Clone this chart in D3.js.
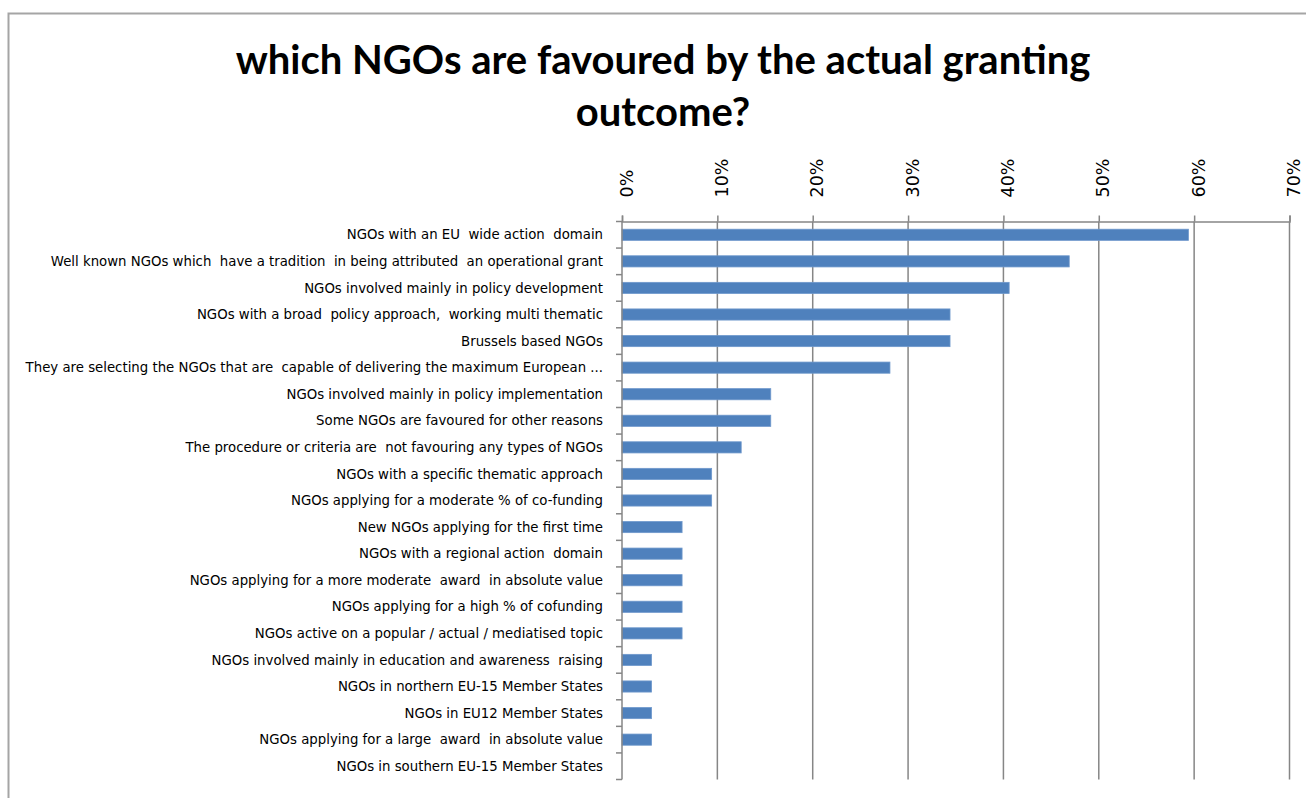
<!DOCTYPE html>
<html>
<head>
<meta charset="utf-8">
<script src="https://cdn.jsdelivr.net/npm/d3@7/dist/d3.min.js"></script>
<style>
  html, body { margin: 0; padding: 0; background: #ffffff; }
  svg { display: block; }
</style>
</head>
<body>
<svg id="chart" width="1306" height="798"></svg>
<script>
// Survey answers: share of respondents naming each type of NGO
const categories = [
  "NGOs with an EU  wide action  domain",
  "Well known NGOs which  have a tradition  in being attributed  an operational grant",
  "NGOs involved mainly in policy development",
  "NGOs with a broad  policy approach,  working multi thematic",
  "Brussels based NGOs",
  "They are selecting the NGOs that are  capable of delivering the maximum European ...",
  "NGOs involved mainly in policy implementation",
  "Some NGOs are favoured for other reasons",
  "The procedure or criteria are  not favouring any types of NGOs",
  "NGOs with a specific thematic approach",
  "NGOs applying for a moderate % of co-funding",
  "New NGOs applying for the first time",
  "NGOs with a regional action  domain",
  "NGOs applying for a more moderate  award  in absolute value",
  "NGOs applying for a high % of cofunding",
  "NGOs active on a popular / actual / mediatised topic",
  "NGOs involved mainly in education and awareness  raising",
  "NGOs in northern EU-15 Member States",
  "NGOs in EU12 Member States",
  "NGOs applying for a large  award  in absolute value",
  "NGOs in southern EU-15 Member States"
];
const shares = [
  0.594, 0.469, 0.406, 0.344, 0.344, 0.281, 0.156, 0.156, 0.125, 0.094, 0.094,
  0.063, 0.063, 0.063, 0.063, 0.063, 0.031, 0.031, 0.031, 0.031, 0.0
];
const tickValues = [0, 0.1, 0.2, 0.3, 0.4, 0.5, 0.6, 0.7];
const titleLines = ["which NGOs are favoured by the actual granting", "outcome?"];

const svg = d3.select("#chart");
const gridColor = "#868686";
const barColor = "#4f81bd";

// outer chart frame
svg.append("rect")
  .attr("x", 8.5).attr("y", 13.5)
  .attr("width", 1330).attr("height", 820)
  .attr("fill", "none")
  .attr("stroke", "#a5a5a5")
  .attr("stroke-width", 2);

// title
svg.append("text")
  .attr("x", 663)
  .attr("font-family", "Lato, 'Open Sans', sans-serif")
  .attr("font-weight", "bold")
  .attr("font-size", 40)
  .attr("fill", "#000")
  .attr("text-anchor", "middle")
  .selectAll("tspan")
  .data(titleLines)
  .join("tspan")
  .attr("x", 663)
  .attr("y", (d, i) => 74 + i * 52)
  .text(d => d);

const plotLeft = 622, plotRight = 1289.5, plotTop = 221.5, plotBottom = 779.5;

const x = d3.scaleLinear().domain([0, 0.7]).range([plotLeft, plotRight]);
const y = d3.scaleBand().domain(categories).range([plotTop, plotBottom]).paddingInner(0.58).paddingOuter(0.29);

// vertical gridlines
svg.append("g")
  .selectAll("line")
  .data(tickValues.slice(1))
  .join("line")
  .attr("x1", d => x(d)).attr("x2", d => x(d))
  .attr("y1", plotTop).attr("y2", plotBottom)
  .attr("stroke", gridColor)
  .attr("stroke-width", 1.5);

// value axis on top
const xAxis = d3.axisTop(x)
  .tickValues(tickValues)
  .tickSize(6)
  .tickFormat(d3.format(".0%"));
const gx = svg.append("g")
  .attr("transform", `translate(0,${plotTop})`)
  .call(xAxis);
gx.select(".domain").attr("stroke", gridColor).attr("stroke-width", 1.5);
gx.selectAll(".tick line").attr("stroke", gridColor).attr("stroke-width", 1.5);
gx.selectAll(".tick text")
  .attr("font-family", "'DejaVu Sans', sans-serif")
  .attr("font-size", 17.5)
  .attr("fill", "#000")
  .attr("text-anchor", "start")
  .attr("transform", "translate(4,-24) rotate(-90)")
  .attr("x", 0).attr("y", 0)
  .attr("dy", "0.35em");

// bars
svg.append("g")
  .selectAll("rect")
  .data(categories.map((c, i) => ({ c, v: shares[i] })))
  .join("rect")
  .attr("x", x(0))
  .attr("y", d => y(d.c))
  .attr("width", d => x(d.v) - x(0))
  .attr("height", y.bandwidth())
  .attr("fill", barColor)
  .attr("stroke", d => d.v > 0 ? "#6f98cc" : "none")
  .attr("stroke-width", 0.8);

// category axis on the left edge of the plot
const step = y.step();
const boundaries = d3.range(categories.length + 1).map(i => plotTop + i * step);
svg.append("g")
  .selectAll("line")
  .data(boundaries)
  .join("line")
  .attr("x1", plotLeft - 6).attr("x2", plotLeft)
  .attr("y1", d => d).attr("y2", d => d)
  .attr("stroke", gridColor).attr("stroke-width", 1.5);
svg.append("line")
  .attr("x1", plotLeft).attr("x2", plotLeft)
  .attr("y1", plotTop).attr("y2", plotBottom)
  .attr("stroke", gridColor).attr("stroke-width", 1.5);

svg.append("g")
  .selectAll("text")
  .data(categories)
  .join("text")
  .attr("x", 603)
  .attr("y", d => y(d) + y.bandwidth() / 2)
  .attr("dy", "0.35em")
  .attr("text-anchor", "end")
  .attr("font-family", "'DejaVu Sans', sans-serif")
  .attr("font-size", 13.3)
  .attr("fill", "#000")
  .attr("xml:space", "preserve")
  .style("white-space", "pre")
  .text(d => d);
</script>
</body>
</html>
